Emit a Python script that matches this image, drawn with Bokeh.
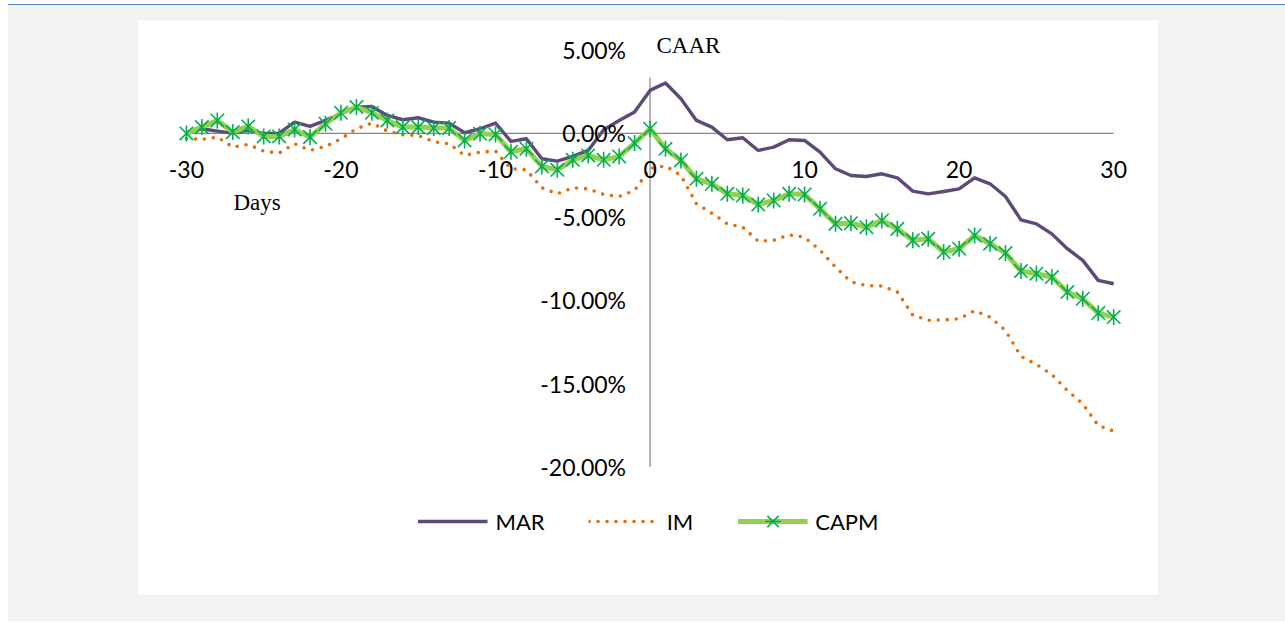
import math
from bokeh.plotting import figure
from bokeh.layouts import column
from bokeh.models import (Range1d, FixedTicker, PrintfTickFormatter, Legend,
                          LegendItem, Label)
from bokeh.embed import file_html
from bokeh.resources import INLINE

days = list(range(-30, 31))
x_ticks = [-30, -20, -10, 0, 10, 20, 30]
y_ticks = [-20, -15, -10, -5, 0, 5]

mar = [0.0, 0.28, 0.14, 0.02, 0.18, 0.0, 0.02, 0.68, 0.42, 0.78,
       1.18, 1.58, 1.62, 1.08, 0.82, 0.94, 0.68, 0.62, 0.04, 0.28,
       0.62, -0.48, -0.32, -1.52, -1.66, -1.38, -1.02, 0.22, 0.78, 1.28,
       2.58, 3.02, 2.08, 0.78, 0.38, -0.38, -0.26, -1.02, -0.82, -0.38,
       -0.42, -1.12, -2.12, -2.52, -2.58, -2.42, -2.66, -3.46, -3.62, -3.48,
       -3.32, -2.66, -3.02, -3.78, -5.18, -5.42, -6.02, -6.91, -7.61, -8.81,
       -9.01]

im = [-0.30, -0.36, -0.22, -0.82, -0.66, -1.06, -1.18, -0.62, -1.02, -0.78,
      -0.32, 0.28, 0.62, 0.14, -0.08, -0.12, -0.50, -0.62, -1.32, -1.12,
      -1.06, -2.12, -2.18, -3.26, -3.62, -3.26, -3.32, -3.66, -3.78, -3.42,
      -2.10, -1.95, -2.52, -4.22, -4.78, -5.42, -5.62, -6.46, -6.41, -6.08,
      -6.22, -7.00, -8.01, -8.90, -9.12, -9.15, -9.50, -10.90, -11.20, -11.18,
      -11.11, -10.63, -11.01, -11.81, -13.37, -13.85, -14.45, -15.41, -16.21, -17.51,
      -17.85]

capm = [0.0, 0.38, 0.78, 0.08, 0.42, -0.18, -0.18, 0.24, -0.22, 0.58,
        1.24, 1.58, 1.24, 0.78, 0.38, 0.38, 0.32, 0.32, -0.42, -0.02,
        -0.06, -1.10, -0.92, -1.98, -2.18, -1.58, -1.32, -1.58, -1.38, -0.58,
        0.28, -0.92, -1.62, -2.72, -3.02, -3.62, -3.72, -4.26, -4.02, -3.62,
        -3.66, -4.52, -5.42, -5.38, -5.62, -5.22, -5.72, -6.41, -6.32, -7.11,
        -6.91, -6.12, -6.61, -7.17, -8.25, -8.41, -8.61, -9.51, -9.91, -10.77,
        -11.01]

AXIS = "#868686"

p = figure(width=1020, height=575,
           x_range=Range1d(-33.1, 32.9), y_range=Range1d(-27.7, 6.77),
           output_backend="svg", toolbar_location=None,
           background_fill_color="white", border_fill_color="white",
           outline_line_color=None,
           min_border_left=0, min_border_right=0,
           min_border_top=0, min_border_bottom=0)
p.margin = (15, 0, 0, 130)
p.xgrid.visible = False
p.ygrid.visible = False

# axes crossing at zero
p.xaxis.fixed_location = 0
p.yaxis.fixed_location = 0
for ax in (p.xaxis, p.yaxis):
    ax.axis_line_color = None
    ax.major_tick_in = 0
    ax.major_tick_out = 0
    ax.minor_tick_in = 0
    ax.minor_tick_out = 0
    ax.major_label_text_font = "Lato"
    ax.major_label_text_font_size = "23px"
    ax.major_label_text_color = "black"
p.xaxis.ticker = FixedTicker(ticks=x_ticks)
p.yaxis.ticker = FixedTicker(ticks=y_ticks)
p.xaxis.formatter = PrintfTickFormatter(format="%d")
p.yaxis.formatter = PrintfTickFormatter(format="%.2f%%")
p.xaxis.major_label_standoff = 28
p.yaxis.major_label_standoff = 24

p.segment(x0=[x_ticks[0]], x1=[x_ticks[-1]], y0=[0], y1=[0],
          line_color=AXIS, line_width=1.2)
p.segment(x0=[0], x1=[0], y0=[y_ticks[0]], y1=[y_ticks[-1]],
          line_color=AXIS, line_width=1.2)

r_mar = p.line(days, mar, line_color="#5F497A", line_width=3.4, line_join="round")
r_im = p.line(days, im, line_color="#E46C0A", line_width=3.6,
              line_dash="0 9", line_cap="round")
r_capm = p.line(days, capm, line_color="#92D050", line_width=5, line_join="round")
r_x = p.scatter(days, capm, marker="x", size=19, line_color="#00B050", line_width=1.6)
r_d = p.scatter(days, capm, marker="dash", angle=math.pi / 2, size=16,
                line_color="#00B050", line_width=1.6)

legend = Legend(items=[LegendItem(label="MAR", renderers=[r_mar]),
                       LegendItem(label="IM", renderers=[r_im]),
                       LegendItem(label="CAPM", renderers=[r_capm, r_x, r_d])],
                orientation="horizontal", location="bottom_center",
                glyph_width=70, glyph_height=40, label_standoff=8, spacing=44,
                label_text_font="Lato", label_text_font_size="22px",
                label_text_color="black",
                border_line_color=None, background_fill_alpha=0,
                margin=54, padding=5)
p.add_layout(legend)

caar = Label(x=-0.81, y=6.77, text="CAAR", text_align="left", text_baseline="top",
             text_font="Liberation Serif", text_font_size="23px", text_color="black",
             background_fill_color="white",
             padding=dict(left=19, right=61, top=12, bottom=20))
p.add_layout(caar)

days_lbl = Label(x=-26.96, y=-4.14, text="Days", text_align="left", text_baseline="middle",
                 text_font="Liberation Serif", text_font_size="23px", text_color="black")
p.add_layout(days_lbl)

layout = column(p, width=1277, height=617,
                styles={"background-color": "#f2f2f2",
                        "border-top": "1px solid #4A86C8"})
layout.margin = (4, 0, 0, 8)

open("out.html", "w").write(file_html(layout, INLINE))
